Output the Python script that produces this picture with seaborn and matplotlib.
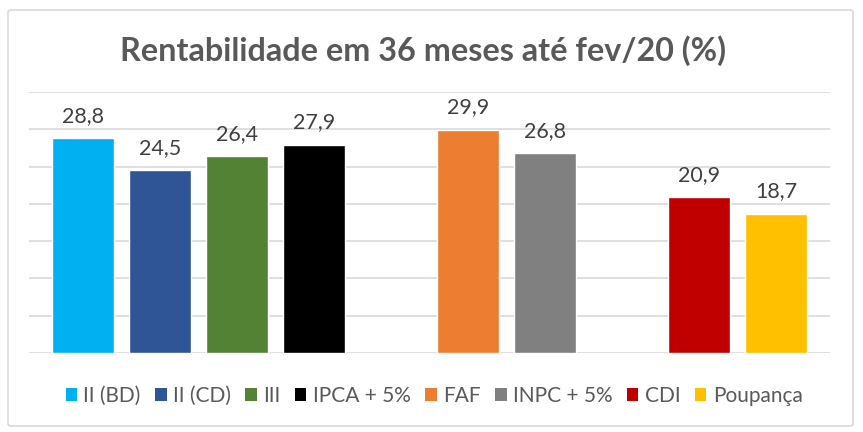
import matplotlib
matplotlib.use("Agg")
import matplotlib.pyplot as plt
import seaborn as sns
import pandas as pd
from matplotlib.patches import FancyBboxPatch, Patch

categories = ["II (BD)", "II (CD)", "III", "IPCA + 5%", "FAF", "INPC + 5%", "CDI", "Poupança"]
values = [28.8, 24.5, 26.4, 27.9, 29.9, 26.8, 20.9, 18.7]
labels = ["28,8", "24,5", "26,4", "27,9", "29,9", "26,8", "20,9", "18,7"]
colors = ["#00B0F0", "#2F5597", "#548235", "#000000", "#ED7D31", "#808080", "#C00000", "#FFC000"]
slot_order = ["II (BD)", "II (CD)", "III", "IPCA + 5%", "gap1", "FAF", "INPC + 5%", "gap2", "CDI", "Poupança"]
title = "Rentabilidade em 36 meses até fev/20 (%)"

sns.set_theme(style="white")
plt.rcParams["font.family"] = ["Lato", "DejaVu Sans"]

df = pd.DataFrame({"cat": categories, "val": values})
palette = dict(zip(categories, colors))

fig = plt.figure(figsize=(8.63, 4.32), dpi=100)
ax = fig.add_axes([29 / 863, 1 - 353 / 432, (830 - 29) / 863, (353 - 92) / 432])

sns.barplot(data=df, x="cat", y="val", hue="cat", order=slot_order, hue_order=categories,
            palette=palette, dodge=False, width=0.8, legend=False, ax=ax, saturation=1)

ax.set_xlim(-0.7, 9.7)
ax.set_ylim(0, 35)
ax.set_yticks(range(0, 36, 5))
ax.yaxis.grid(True, color="#d9d9d9", linewidth=1.2)
ax.set_axisbelow(True)
for s in ax.spines.values():
    s.set_visible(False)
ax.set_xticks([])
ax.set_yticklabels([])
ax.tick_params(left=False, bottom=False)
ax.set_xlabel("")
ax.set_ylabel("")

for cat, v, lab in zip(categories, values, labels):
    xpos = slot_order.index(cat)
    ax.annotate(lab, (xpos, v), xytext=(0, 9), textcoords="offset points",
                ha="center", va="bottom", fontsize=15.5, color="#404040")

fig.text(423 / 863, 1 - 51 / 432, title, ha="center", va="center", fontsize=23.3,
         fontweight="bold", color="#595959")

handles = [Patch(facecolor=c, edgecolor="none") for c in colors]
fig.legend(handles, categories, loc="center", bbox_to_anchor=(434 / 863, 1 - 396 / 432), ncol=8,
           frameon=False, fontsize=15, labelcolor="#595959", handlelength=0.55, handleheight=0.55,
           handletextpad=0.3, columnspacing=0.7)

border = FancyBboxPatch((8 / 863, 1 - 426 / 432), (853 - 8) / 863, (426 - 10) / 432,
                        boxstyle="round,pad=0,rounding_size=0.005", transform=fig.transFigure,
                        facecolor="none", edgecolor="#d9d9d9", linewidth=1.2)
fig.patches.append(border)

fig.savefig("out.png", dpi=100, facecolor="white")
